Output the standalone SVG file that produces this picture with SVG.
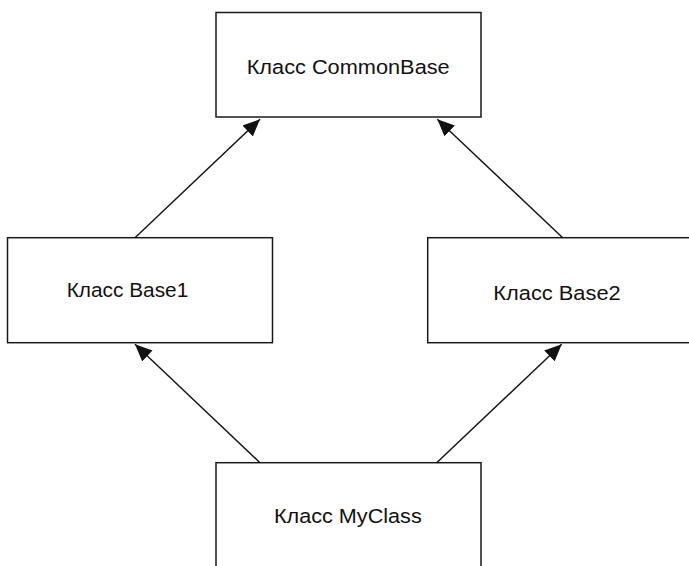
<svg xmlns="http://www.w3.org/2000/svg" width="689" height="566" viewBox="0 0 689 566">
  <style>
    .box { fill: #ffffff; stroke: #1a1a1a; stroke-width: 1.5; }
    .lbl { font-family: "Liberation Sans", Arial, sans-serif; font-size: 20.5px; fill: #111111; }
    .edge { stroke: #111111; stroke-width: 1.4; fill: none; marker-end: url(#arrow); }
  </style>
  <defs>
    <marker id="arrow" markerUnits="userSpaceOnUse" markerWidth="20" markerHeight="16" refX="17" refY="7.5" orient="auto">
      <path d="M0,0 L17,7.5 L0,15 Z" fill="#111111"/>
    </marker>
  </defs>
  <rect width="689" height="566" fill="#ffffff"/>

  <g id="node-commonbase">
    <rect class="box" x="216" y="12.5" width="265" height="104.5"/>
    <text class="lbl" x="246.7" y="74" textLength="203" lengthAdjust="spacingAndGlyphs">Класс CommonBase</text>
  </g>

  <g id="node-base1">
    <rect class="box" x="7.5" y="237.7" width="265" height="105"/>
    <text class="lbl" x="66.7" y="297" textLength="121.6" lengthAdjust="spacingAndGlyphs">Класс Base1</text>
  </g>

  <g id="node-base2">
    <rect class="box" x="427.7" y="237.7" width="265" height="105"/>
    <text class="lbl" x="493.3" y="300" textLength="127.4" lengthAdjust="spacingAndGlyphs">Класс Base2</text>
  </g>

  <g id="node-myclass">
    <rect class="box" x="216" y="462.7" width="265" height="110"/>
    <text class="lbl" x="274" y="522.5" textLength="147.7" lengthAdjust="spacingAndGlyphs">Класс MyClass</text>
  </g>

  <g id="connectors">
    <line class="edge" x1="135" y1="237.7" x2="260" y2="119.3"/>
    <line class="edge" x1="562.7" y1="237.7" x2="437.3" y2="119.3"/>
    <line class="edge" x1="260" y1="462.7" x2="135" y2="344.3"/>
    <line class="edge" x1="436.7" y1="462.7" x2="561.7" y2="344.3"/>
  </g>
</svg>
